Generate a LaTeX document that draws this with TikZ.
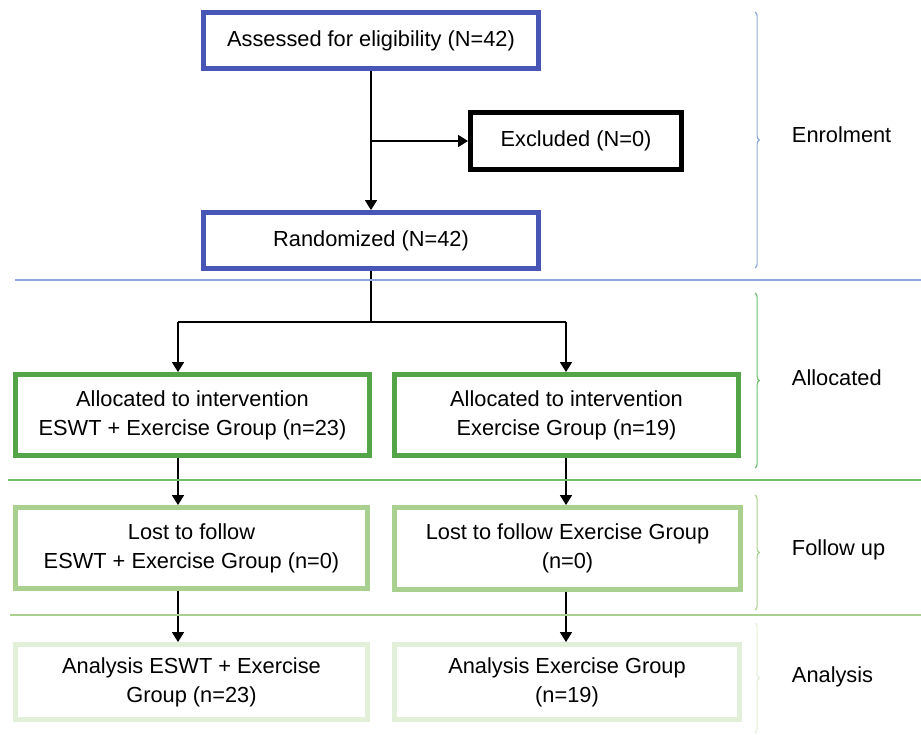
\documentclass[tikz,border=0pt]{standalone}
\usepackage{fontspec}
\setmainfont{Liberation Sans}
\usetikzlibrary{arrows.meta,decorations.pathreplacing}
\definecolor{enrolblue}{RGB}{72,86,184}
\definecolor{allocgreen}{RGB}{84,164,72}
\definecolor{followgreen}{RGB}{169,208,142}
\definecolor{analgreen}{RGB}{226,239,217}
\definecolor{lineblue}{RGB}{142,170,219}
\definecolor{linegreen}{RGB}{112,192,112}

\begin{document}
\begin{tikzpicture}[x=0.025cm,y=-0.025cm,
	font=\fontsize{15.5}{20.6}\selectfont,
	box/.style={draw,line width=3.5pt,align=center,inner sep=0pt},
	arr/.style={line width=0.9pt,-{Triangle[length=7pt,width=8.5pt]}},
	conn/.style={line width=0.9pt},
	sep/.style={line width=1pt},
	phase/.style={decorate,decoration={brace,amplitude=3pt},line width=0.8pt},
	phaselabel/.style={anchor=west}]

	\useasboundingbox (0,0) rectangle (921,735);

	\node[box,draw=enrolblue,minimum width=8.375cm,minimum height=1.4cm] (assess) at (371,40.5) {Assessed for eligibility (N=42)};
	\node[box,draw=black,minimum width=5.275cm,minimum height=1.425cm] (excl) at (576,141) {Excluded (N=0)};
	\node[box,draw=enrolblue,minimum width=8.375cm,minimum height=1.4cm] (rand) at (371,240.5) {Randomized (N=42)};

	\node[box,draw=allocgreen,minimum width=8.85cm,minimum height=2.025cm] (allocL) at (192.5,415) {Allocated to intervention\\ESWT + Exercise Group (n=23)};
	\node[box,draw=allocgreen,minimum width=8.6cm,minimum height=2.025cm] (allocR) at (566.5,415) {Allocated to intervention\\Exercise Group (n=19)};

	\node[box,draw=followgreen,minimum width=8.8cm,minimum height=2.025cm] (followL) at (191.5,548) {Lost to follow\\ESWT + Exercise Group (n=0)};
	\node[box,draw=followgreen,minimum width=8.65cm,minimum height=2.05cm] (followR) at (567.5,548.5) {Lost to follow Exercise Group\\(n=0)};

	\node[box,draw=analgreen,minimum width=8.8cm,minimum height=1.875cm] (analL) at (191.5,682) {Analysis ESWT + Exercise\\Group (n=23)};
	\node[box,draw=analgreen,minimum width=8.625cm,minimum height=1.875cm] (analR) at (567,682) {Analysis Exercise Group\\(n=19)};

	\coordinate (split) at (371,141);
	\coordinate (fork) at (371,322);
	\coordinate (forkL) at (178,322);
	\coordinate (forkR) at (566,322);

	\draw[arr] (assess) -- (rand);
	\draw[arr] (split) -- (excl);
	\draw[conn] (rand) -- (fork);
	\draw[conn] (forkL) -- (forkR);
	\draw[arr] (forkL) -- (forkL |- allocL.north);
	\draw[arr] (forkR) -- (forkR |- allocR.north);
	\draw[arr] (forkL |- allocL.south) -- (forkL |- followL.north);
	\draw[arr] (forkR |- allocR.south) -- (forkR |- followR.north);
	\draw[arr] (forkL |- followL.south) -- (forkL |- analL.north);
	\draw[arr] (forkR |- followR.south) -- (forkR |- analR.north);

	\draw[sep,lineblue] (15,280) -- (921,280);
	\draw[sep,linegreen] (8,480) -- (921,480);
	\draw[sep,followgreen] (10,615) -- (921,615);

	\draw[phase,lineblue] (755,12) -- (755,268);
	\draw[phase,linegreen] (755,293) -- (755,468);
	\draw[phase,followgreen] (755,495) -- (755,610);
	\draw[phase,analgreen] (755,623) -- (755,733);

	\node[phaselabel] (enrol) at (787,135) {Enrolment};
	\node[phaselabel] (alloc) at (787,378) {Allocated};
	\node[phaselabel] (follow) at (787,550) {Follow up};
	\node[phaselabel] (anal) at (787,677) {Analysis};

\end{tikzpicture}
\end{document}
